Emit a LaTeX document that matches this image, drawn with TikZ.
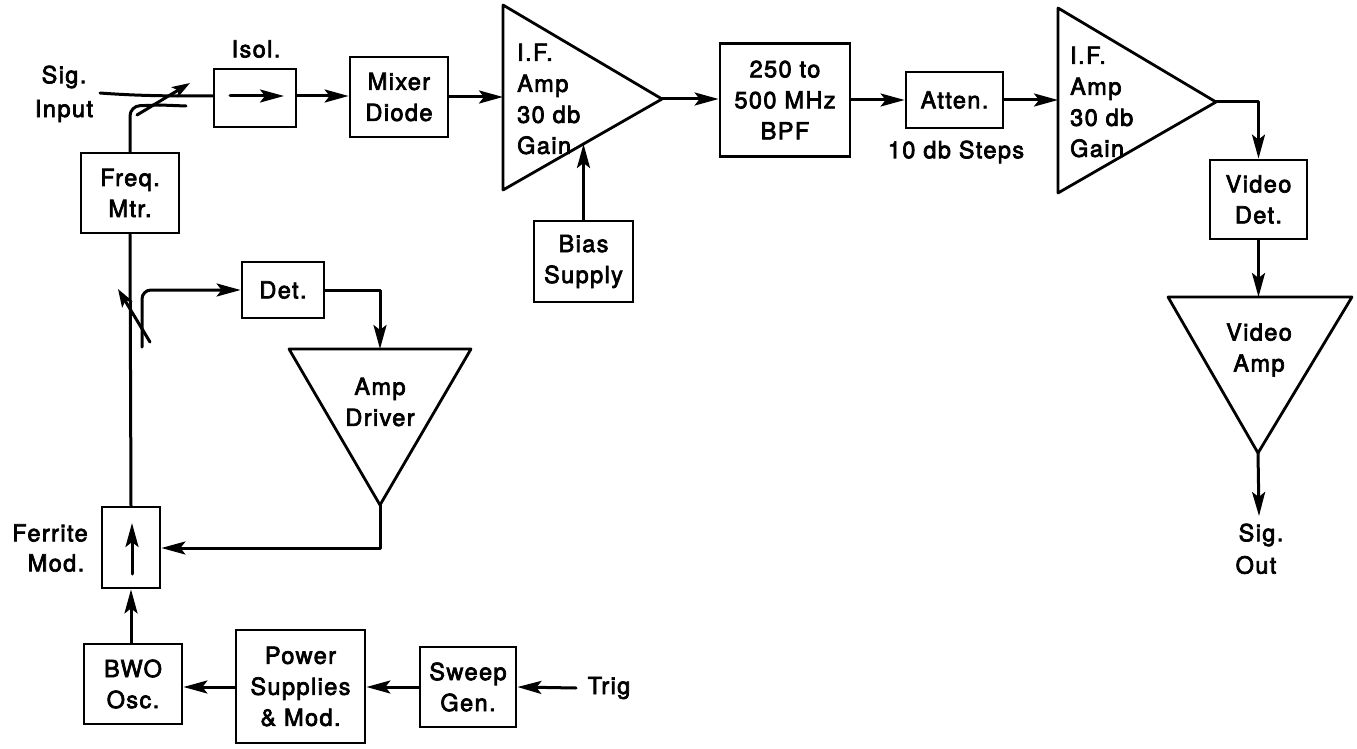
\documentclass[tikz,border=0pt]{standalone}
\usepackage{fontspec}
\setmainfont{TeX Gyre Heros}[LetterSpace=6,FakeBold=3]
\usetikzlibrary{arrows.meta,calc}
\tikzset{
  x=1pt,y=-1pt,
  wire/.style={line width=3pt,line cap=round,line join=round},
  flow/.style={wire,-{Stealth[length=24pt,width=13pt,inset=5pt]}},
  blockbox/.style={draw,line width=2.8pt,minimum width=#1,inner sep=0pt,align=center,font=\fontsize{23.5}{31}\selectfont},
  boxh/.style={minimum height=#1},
  amp/.style={draw,line width=2.8pt,line join=round},
  lab/.style={inner sep=0pt,align=center,font=\fontsize{23.5}{31}\selectfont},
  lableft/.style={lab,align=left,anchor=west},
}
\begin{document}
\begin{tikzpicture}
\useasboundingbox (0,0) rectangle (1357,749);
% boxes
\node[blockbox=82pt,boxh=58pt] (isol) at (255,98) {};
\node[blockbox=98pt,boxh=80pt] (mix) at (399,97) {Mixer\\Diode};
\node[blockbox=130pt,boxh=113pt] (bpf) at (785,100) {250 to\\500 MHz\\BPF};
\node[blockbox=97pt,boxh=56pt] (att) at (954.5,100) {Atten.};
\node[blockbox=97pt,boxh=79pt] (vdet) at (1258.5,199.5) {Video\\Det.};
\node[blockbox=99pt,boxh=81pt] (bias) at (583.5,261.5) {Bias\\Supply};
\node[blockbox=98pt,boxh=80pt] (freq) at (130,193) {Freq.\\Mtr.};
\node[blockbox=82pt,boxh=56pt] (det) at (283,290) {Det.};
\node[blockbox=58pt,boxh=81pt] (ferr) at (131,547.5) {};
\node[blockbox=98pt,boxh=80pt] (bwo) at (133,684) {BWO\\Osc.};
\node[blockbox=129pt,boxh=113pt] (pwr) at (300.5,686.5) {Power\\Supplies\\\& Mod.};
\node[blockbox=96pt,boxh=80pt] (swp) at (468,687) {Sweep\\Gen.};
% triangles
\coordinate (t1a) at (503,5); \coordinate (t1b) at (503,190); \coordinate (t1o) at (662,99);
\draw[amp] (t1a) -- (t1o) -- (t1b) -- cycle;
\coordinate (t2a) at (1058,8); \coordinate (t2b) at (1058,193); \coordinate (t2o) at (1216,102);
\draw[amp] (t2a) -- (t2o) -- (t2b) -- cycle;
\coordinate (t3a) at (1168,297); \coordinate (t3b) at (1352,297); \coordinate (t3o) at (1258,453);
\draw[amp] (t3a) -- (t3b) -- (t3o) -- cycle;
\coordinate (t4a) at (289,349); \coordinate (t4b) at (471,349); \coordinate (t4o) at (380,505);
\coordinate (t4i) at (380,349);
\draw[amp] (t4a) -- (t4b) -- (t4o) -- cycle;
% triangle texts
\node[lableft] (t1t) at (517,99) {I.F.\\Amp\\30 db\\Gain};
\node[lableft] (t2t) at (1070,102) {I.F.\\Amp\\30 db\\Gain};
\node[lab] (t3t) at (1259,350) {Video\\Amp};
\node[lab] (t4t) at (380,402) {Amp\\Driver};
% labels
\node[lab] (lisol) at (256,49) {Isol.};
\node[lab] (lsig) at (64,77) {Sig.};
\node[lab] (linp) at (64,111) {Input};
\node[lab] (lfer) at (50,533) {Ferrite};
\node[lab] (lmod) at (56,563) {Mod.};
\node[lab] (lstep) at (956,152) {10 db Steps};
\node[lab] (ltrig) at (609,688) {Trig};
\node[lab] (lso) at (1261,535) {Sig.};
\node[lab] (lou) at (1256,565) {Out};
% free ends
\coordinate (sigin) at (100,93);
\coordinate (trigin) at (576,688);
\coordinate (sigout) at (1259,516);
\coordinate (upper1) at (137,115); \coordinate (upper2) at (190,83);
\coordinate (upper3) at (160,105); \coordinate (upper4) at (186,106);
\coordinate (lower1) at (118,289); \coordinate (lower2) at (150,342);
\coordinate (branch) at (142,347);
% inner arrows
\draw[flow] (230,96) -- (284,96);
\draw[flow] (132,574) -- (132,523);
% signal path
\draw[wire] (sigin) .. controls (140,96) and (170,96) .. (isol.west |- 0,96);
\draw[flow] (isol.east |- 0,96) -- (mix.west |- 0,96);
\draw[flow] (mix.east) -- (t1a |- mix.east);
\draw[flow] (t1o) -- (bpf.west |- t1o);
\draw[flow] (bpf.east |- att.west) -- (att.west);
\draw[flow] (att.east) -- (t2a |- att.east);
\draw[flow] (t2o) -- (vdet.north |- t2o) -- (vdet.north);
\draw[flow] (vdet.south) -- (vdet.south |- t3a);
\draw[flow] (t3o |- 0,453) -- (sigout |- 0,516);
\draw[flow] (bias.north) -- (bias.north |- 0,144);
% couplers
\draw[wire,-{Stealth[length=18pt,width=12pt,inset=4pt]}] (upper1) -- (upper2);
\draw[wire] (upper3) -- (upper4);
\draw[wire,rounded corners=10pt] (freq.north) -- (130,106) -- (upper3);
\draw[wire] (freq.south) -- (ferr.north);
\draw[wire,-{Stealth[length=18pt,width=12pt,inset=4pt]}] (lower2) -- (lower1);
\draw[flow,rounded corners=9pt] (branch) -- (branch |- det.west) -- (det.west);
\draw[flow] (det.east) -- (t4o |- det.east) -- (t4i);
% lower chain
\draw[flow] (t4o) -- (380,548) -- (ferr.east |- 0,548);
\draw[flow] (bwo.north -| ferr.center) -- (ferr.south);
\draw[flow] (pwr.west |- 0,687) -- (bwo.east |- 0,687);
\draw[flow] (swp.west) -- (pwr.east |- swp.west);
\draw[flow] (trigin) -- (swp.east);
\end{tikzpicture}
\end{document}
